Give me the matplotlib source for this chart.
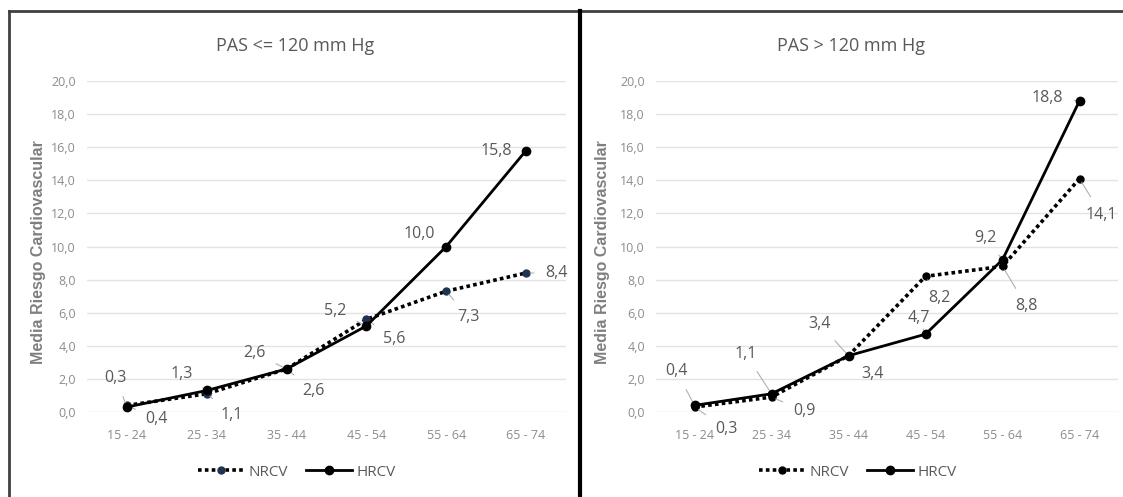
import matplotlib
matplotlib.use("Agg")
import matplotlib.pyplot as plt
from matplotlib.lines import Line2D
from matplotlib.ticker import FuncFormatter, MultipleLocator

plt.rcParams['font.family'] = ['Open Sans', 'DejaVu Sans']

# Datos
grupos = ["15 - 24", "25 - 34", "35 - 44", "45 - 54", "55 - 64", "65 - 74"]
titulos = ["PAS <= 120 mm Hg", "PAS > 120 mm Hg"]

nrcv_bajo = [0.4, 1.1, 2.6, 5.6, 7.3, 8.4]
hrcv_bajo = [0.3, 1.3, 2.6, 5.2, 10.0, 15.8]
nrcv_alto = [0.3, 0.9, 3.4, 8.2, 8.8, 14.1]
hrcv_alto = [0.4, 1.1, 3.4, 4.7, 9.2, 18.8]

# desplazamientos de las etiquetas (pixeles)
off_nrcv_bajo = [(30, -14), (25, -21), (27, -22), (28, -20), (22, -26), (30, 0)]
off_hrcv_bajo = [(-11, 29), (-25, 16), (-32, 16), (-31, 15), (-27, 12), (-30, 0)]
off_nrcv_alto = [(32, -22), (33, -14), (24, -18), (14, -22), (24, -40), (22, -36)]
off_hrcv_alto = [(-18, 34), (-26, 40), (-29, 32), (-7, 16), (-17, 22), (-32, 3)]

gris_txt = '#595959'
gris_tick = '#8c8c8c'
azul = '#1f3350'

fig = plt.figure(figsize=(11.23, 4.97), dpi=100)
W, H = 1123, 497

posiciones = [(87, 566), (656, 1118)]
ylab_x = [39, 602]
centros = [295, 851]
leyenda_x = [297, 858]
colores_nrcv = [azul, 'black']
series = [(nrcv_bajo, hrcv_bajo, off_nrcv_bajo, off_hrcv_bajo),
          (nrcv_alto, hrcv_alto, off_nrcv_alto, off_hrcv_alto)]

coma = FuncFormatter(lambda v, p: f"{v:.1f}".replace(".", ","))

def etiquetar(ax, xs, ys, offs):
	for x, y, (dx, dy) in zip(xs, ys, offs):
		ax.annotate(f"{y:.1f}".replace(".", ","), (x, y), xytext=(dx, dy),
			textcoords='offset pixels', ha='center', va='center',
			fontsize=11.5, color=gris_txt,
			arrowprops=dict(arrowstyle='-', color='#b0b0b0', lw=0.8,
				shrinkA=6, shrinkB=3))

for i in range(2):
	x0, x1 = posiciones[i]
	ax = fig.add_axes([x0 / W, 1 - 412 / H, (x1 - x0) / W, (412 - 81) / H])
	nr, hr, onr, ohr = series[i]
	xs = list(range(len(grupos)))
	ax.plot(xs, nr, linestyle=(0, (1, 0.9)), color='black', lw=2.6, marker='o', ms=5,
		mfc=colores_nrcv[i], mec=colores_nrcv[i], clip_on=False, zorder=3,
		dash_capstyle='butt')
	ax.plot(xs, hr, linestyle='-', color='black', lw=2.0, marker='o', ms=6,
		clip_on=False, zorder=4)
	etiquetar(ax, xs, hr, ohr)
	etiquetar(ax, xs, nr, onr)
	ax.set_xlim(-0.5, len(grupos) - 0.5)
	ax.set_ylim(0, 20)
	ax.yaxis.set_major_locator(MultipleLocator(2))
	ax.yaxis.set_major_formatter(coma)
	ax.set_xticks(xs)
	ax.set_xticklabels(grupos)
	ax.tick_params(length=0, labelsize=9, colors=gris_tick, pad=12)
	ax.tick_params(axis='y', pad=8)
	ax.grid(axis='y', color='#e3e3e3', lw=1)
	ax.set_axisbelow(True)
	for s in ax.spines.values():
		s.set_visible(False)
	fig.text(centros[i] / W, 1 - 46 / H, titulos[i], ha='center', va='center',
		fontsize=13, color=gris_txt)
	fig.text(ylab_x[i] / W, 1 - 252 / H, "Media Riesgo Cardiovascular",
		rotation=90, ha='center', va='center', fontsize=11.5,
		fontweight='bold', color='#7f7f7f', family=['Liberation Sans', 'DejaVu Sans'])
	h1 = Line2D([], [], linestyle=(0, (1, 0.9)), color='black', lw=2.6, marker='o', ms=5,
		mfc=colores_nrcv[i], mec=colores_nrcv[i], dash_capstyle='butt')
	h2 = Line2D([], [], linestyle='-', color='black', lw=2.0, marker='o', ms=6)
	fig.legend([h1, h2], ["NRCV", "HRCV"], loc='center',
		bbox_to_anchor=(leyenda_x[i] / W, 1 - 472 / H),
		ncol=2, frameon=False, fontsize=11, handlelength=3, columnspacing=1.2,
		handletextpad=0.3, labelcolor=gris_txt)

# bordes de los paneles
fig.add_artist(Line2D([9 / W, 1], [1 - 11 / H, 1 - 11 / H], color='#404040', lw=2))
fig.add_artist(Line2D([9 / W, 9 / W], [0, 1 - 11 / H], color='#404040', lw=2))
fig.add_artist(Line2D([580 / W, 580 / W], [0, 1 - 11 / H], color='black', lw=3))

fig.savefig("out.png", dpi=100)
